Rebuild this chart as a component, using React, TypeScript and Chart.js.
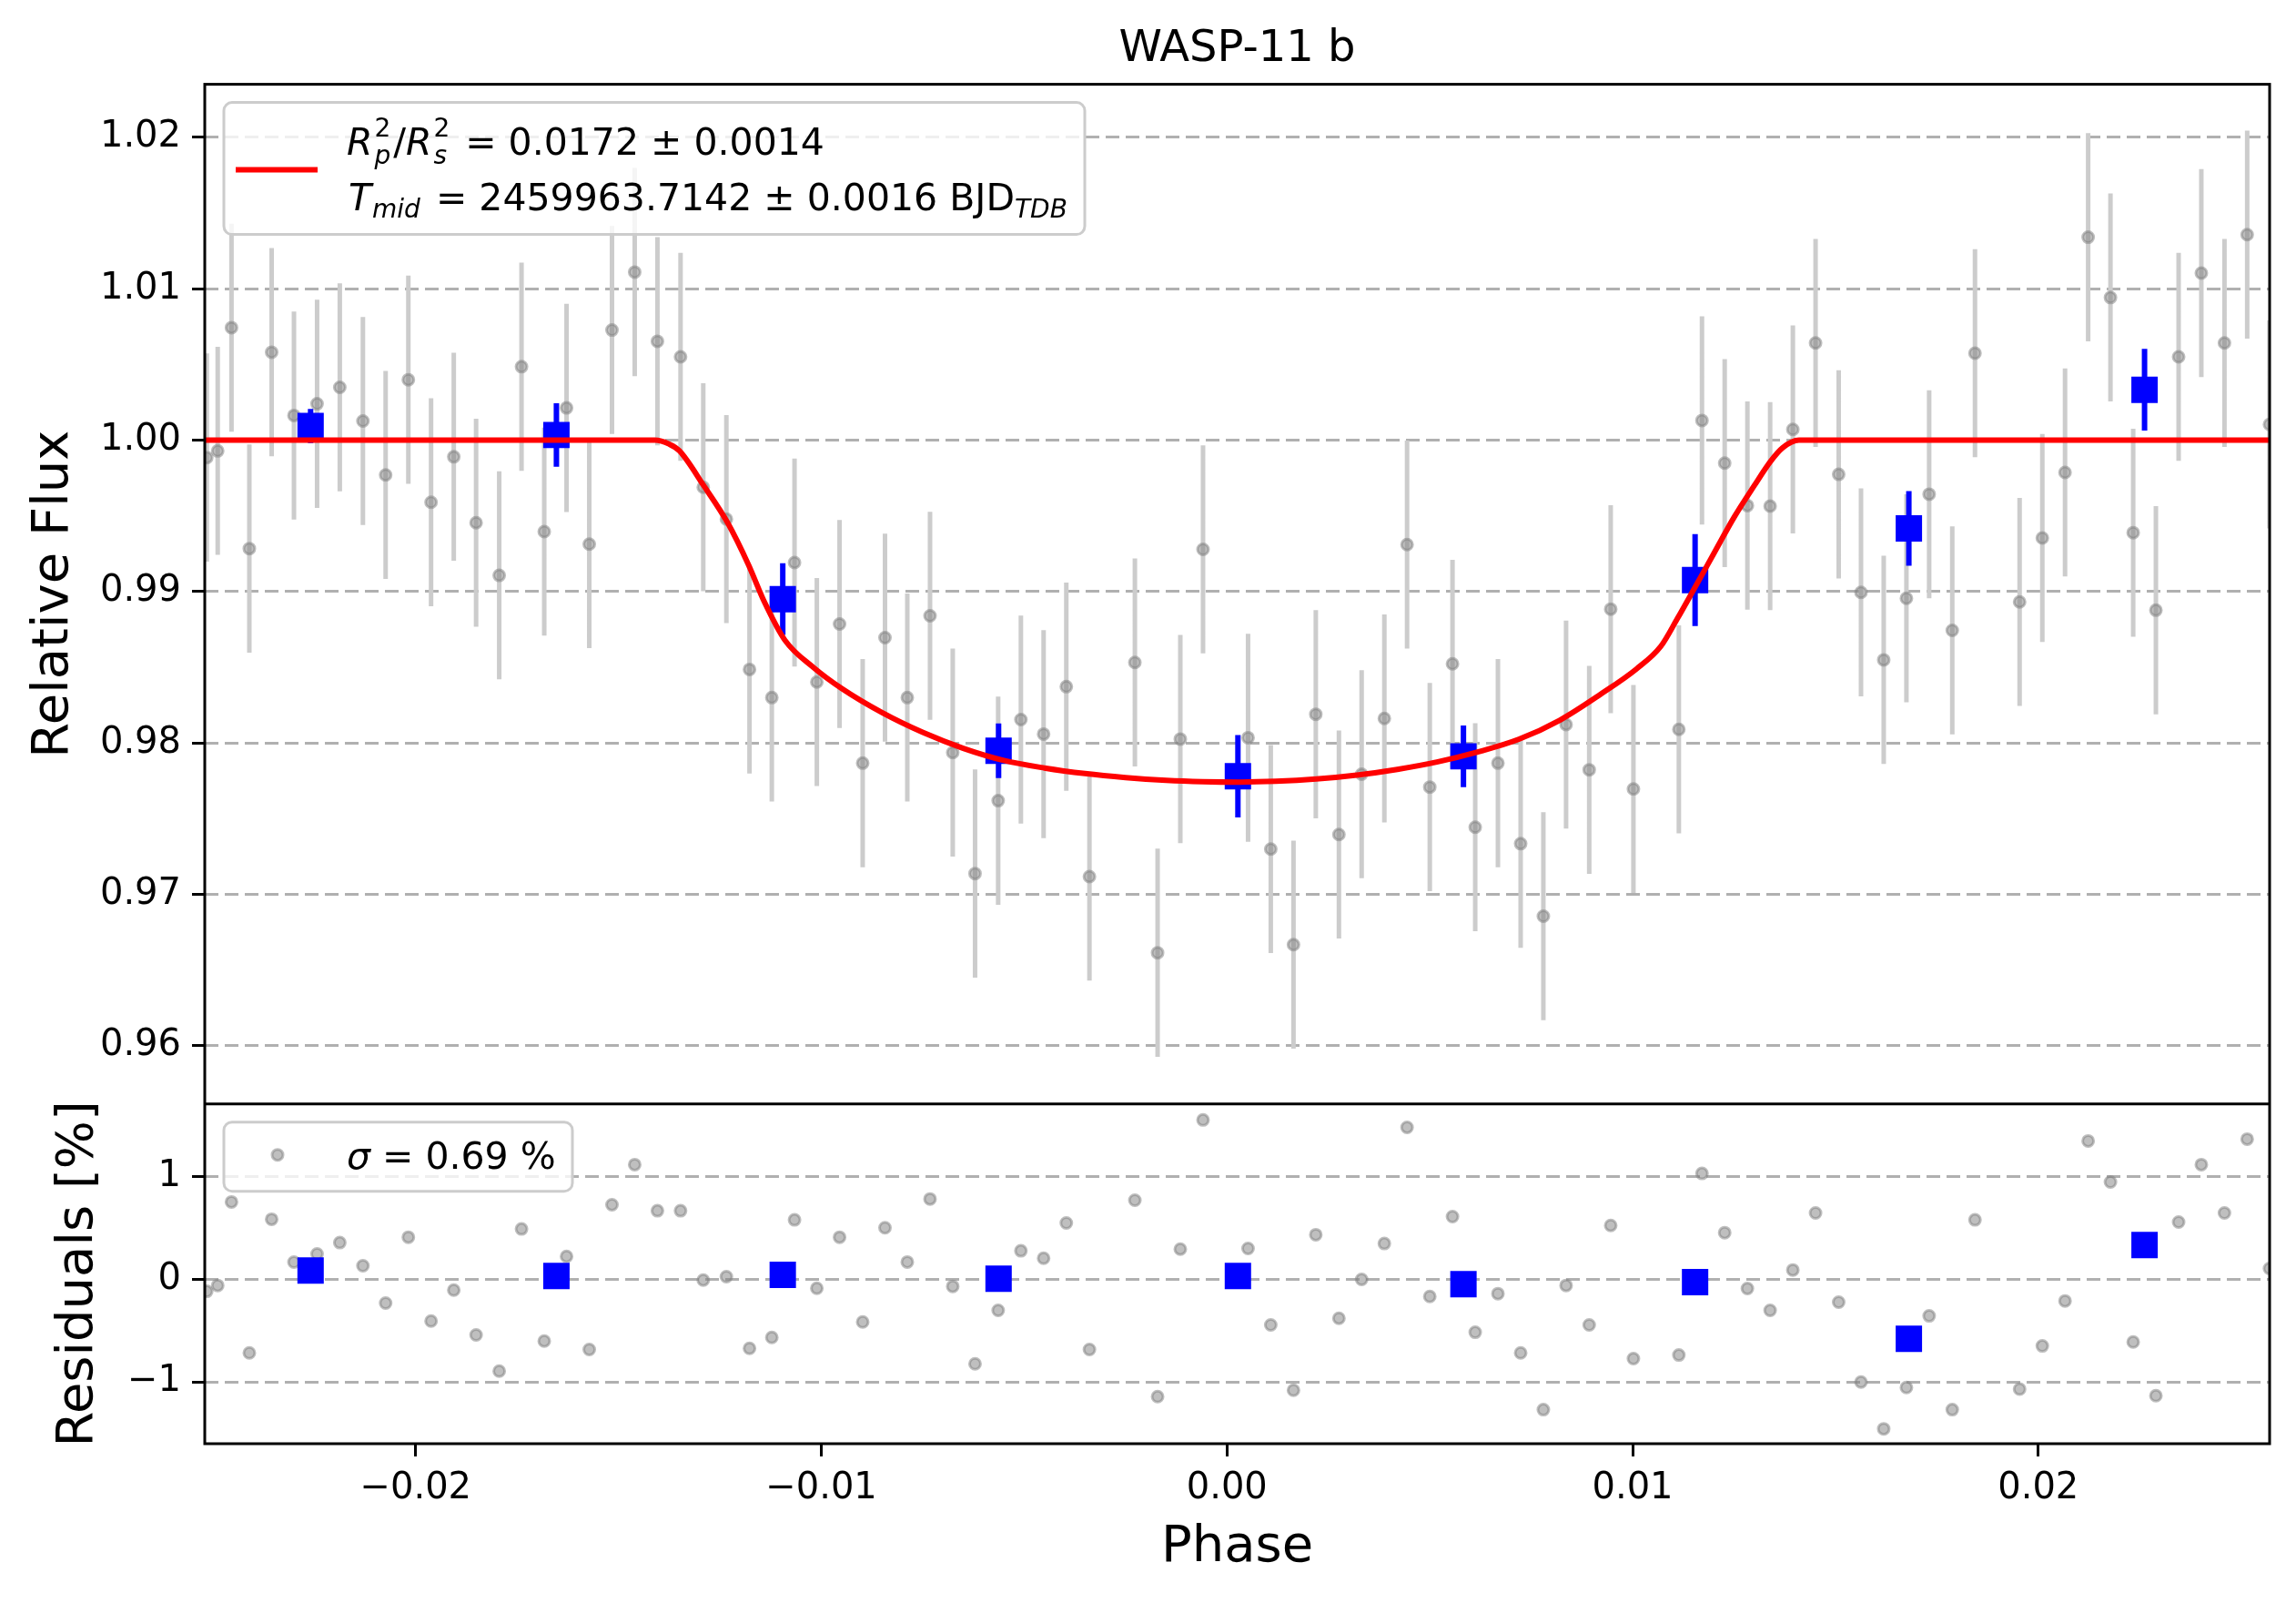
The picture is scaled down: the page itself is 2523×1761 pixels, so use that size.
import React, { useEffect, useRef } from "react";
import { Chart, registerables } from "chart.js";

Chart.register(...registerables);

const FONT = '"DejaVu Sans", sans-serif';
const W = 2523;
const H = 1761;

// unbinned light curve (phase, relative flux, residual in %)
const PHASE = [
  -0.02515, -0.02488, -0.02454, -0.0241, -0.02355, -0.023, -0.02243, -0.02187, -0.0213, -0.02074,
  -0.02018, -0.01962, -0.01906, -0.01851, -0.01794, -0.01739, -0.01683, -0.01628, -0.01572, -0.01516,
  -0.0146, -0.01404, -0.01347, -0.01291, -0.01234, -0.01177, -0.01122, -0.01066, -0.01011, -0.00955,
  -0.00898, -0.00843, -0.00788, -0.00732, -0.00676, -0.00621, -0.00564, -0.00508, -0.00452, -0.00396,
  -0.00339, -0.00227, -0.00171, -0.00115, -0.00059, 0.00052, 0.00108, 0.00164, 0.00219, 0.00276,
  0.00332, 0.00388, 0.00444, 0.005, 0.00556, 0.00612, 0.00668, 0.00724, 0.0078, 0.00836,
  0.00893, 0.00946, 0.01002, 0.01114, 0.01171, 0.01227, 0.01283, 0.01339, 0.01395, 0.01451,
  0.01508, 0.01563, 0.01619, 0.01675, 0.01731, 0.01788, 0.01844, 0.01954, 0.0201, 0.02066,
  0.02123, 0.02178, 0.02234, 0.0229, 0.02346, 0.02402, 0.02459, 0.02515, 0.0257,
];
const FLUX = [
  0.99885, 0.99929, 1.00743, 0.99284, 1.00581, 1.00163, 1.0024, 1.00349, 1.00126, 0.9977,
  1.00399, 0.9959, 0.9989, 0.99455, 0.99107, 1.00485, 0.99396, 1.00213, 0.99313, 1.00727,
  1.0111, 1.00653, 1.0055, 0.99689, 0.99479, 0.98486, 0.983, 0.99192, 0.98403, 0.98786,
  0.97867, 0.98696, 0.983, 0.9884, 0.97937, 0.97138, 0.97619, 0.98155, 0.98059, 0.98372,
  0.97118, 0.98532, 0.96615, 0.98026, 0.99279, 0.98035, 0.973, 0.96668, 0.9819, 0.97396,
  0.97794, 0.98162, 0.9931, 0.97709, 0.98523, 0.97444, 0.97867, 0.97335, 0.96856, 0.98122,
  0.97823, 0.98884, 0.97696, 0.9809, 1.0013, 0.99848, 0.99568, 0.99564, 1.00071, 1.00642,
  0.99774, 0.98995, 0.98549, 0.98956, 0.99643, 0.98744, 1.00574, 0.98932, 0.99354, 0.99787,
  1.0134, 1.00942, 0.99389, 0.98877, 1.0055, 1.01103, 1.00642, 1.01357, 1.00104,
];
const FLUX_ERR = 0.00687;
const RESID = [
  -0.116, -0.059, 0.756, -0.717, 0.587, 0.169, 0.249, 0.359, 0.133, -0.231,
  0.412, -0.406, -0.104, -0.542, -0.895, 0.492, -0.601, 0.225, -0.684, 0.729,
  1.12, 0.67, 0.67, -0.006, 0.027, -0.673, -0.566, 0.581, -0.086, 0.412,
  -0.415, 0.504, 0.17, 0.785, -0.068, -0.824, -0.302, 0.279, 0.207, 0.551,
  -0.684, 0.773, -1.144, 0.296, 1.556, 0.302, -0.444, -1.081, 0.436, -0.379,
  0.0, 0.35, 1.484, -0.166, 0.613, -0.516, -0.139, -0.717, -1.271, -0.059,
  -0.444, 0.527, -0.773, -0.738, 1.034, 0.456, -0.089, -0.302, 0.092, 0.649,
  -0.222, -1.001, -1.458, -1.055, -0.356, -1.271, 0.581, -1.07, -0.649, -0.21,
  1.351, 0.951, -0.61, -1.135, 0.56, 1.12, 0.649, 1.369, 0.107,
];

// binned points
const BIN_PHASE = [-0.02259, -0.01653, -0.01095, -0.00563, 0.00027, 0.00583, 0.01154, 0.01681, 0.02262];
const BIN_FLUX = [1.00093, 1.00034, 0.9895, 0.97949, 0.97781, 0.97912, 0.99076, 0.99417, 1.00333];
const BIN_ERR = [0.00113, 0.0021, 0.00237, 0.0018, 0.00272, 0.00204, 0.00303, 0.00246, 0.0027];
const BIN_RESID = [0.086, 0.034, 0.044, 0.007, 0.034, -0.046, -0.027, -0.579, 0.336];

// transit model
const MODEL_PHASE = [
  -0.0252, -0.0141, -0.01375, -0.0135, -0.0129, -0.0123, -0.0118, -0.0114, -0.0109, -0.0102,
  -0.0095, -0.0085, -0.0075, -0.0065, -0.0055, -0.0045, -0.0035, -0.0025, -0.0015, -0.0006,
  0.0003, 0.0012, 0.0022, 0.0032, 0.0042, 0.0052, 0.0062, 0.0072, 0.0082, 0.0092,
  0.0101, 0.0107, 0.0111, 0.0115, 0.012, 0.0125, 0.013, 0.0134, 0.0137, 0.0141,
  0.0257,
];
const MODEL_FLUX = [
  1.0, 1.0, 0.99974, 0.9993, 0.997, 0.9945, 0.9918, 0.9893, 0.9868, 0.985,
  0.9836, 0.982, 0.9807, 0.97965, 0.97885, 0.97835, 0.97798, 0.97772, 0.97754, 0.97745,
  0.97742, 0.97747, 0.97762, 0.97788, 0.97826, 0.97876, 0.97942, 0.98025, 0.9815, 0.9832,
  0.9849, 0.9864, 0.9882, 0.9901, 0.9925, 0.9949, 0.997, 0.9986, 0.9995, 1.0,
  1.0,
];

const X_TICKS = [-0.02, -0.01, 0.0, 0.01, 0.02];
const FLUX_TICKS = [0.96, 0.97, 0.98, 0.99, 1.0, 1.01, 1.02];
const RESID_TICKS = [-1, 0, 1];

const GRAY_FILL = "rgba(128,128,128,0.5)";
const BAR_GRAY = "rgb(204,204,204)";
const BLUE = "#0000ff";
const RED = "#ff0000";

const minus = (s: string) => s.replace("-", "\u2212");

const points = (xs: number[], ys: number[]) => xs.map((x, i) => ({ x, y: ys[i] }));
const bars = (xs: number[], ys: number[], err: (i: number) => number) =>
  xs.flatMap((x, i) => [
    { x, y: ys[i] - err(i) },
    { x, y: ys[i] + err(i) },
    { x, y: null },
  ]);

type Run = { t: string; size?: number; italic?: boolean; dy?: number; keep?: boolean; gap?: number };

const drawRuns = (ctx: CanvasRenderingContext2D, x: number, y: number, runs: Run[]) => {
  ctx.fillStyle = "#000";
  ctx.textBaseline = "alphabetic";
  ctx.textAlign = "left";
  for (const r of runs) {
    ctx.font = `${r.italic ? "italic " : ""}${r.size ?? 41}px ${FONT}`;
    ctx.fillText(r.t, x, y + (r.dy ?? 0));
    if (!r.keep) x += ctx.measureText(r.t).width + (r.gap ?? 0);
  }
};

const legendBox = (ctx: CanvasRenderingContext2D, x: number, y: number, w: number, h: number) => {
  ctx.beginPath();
  ctx.roundRect(x, y, w, h, 9);
  ctx.fillStyle = "rgba(255,255,255,0.8)";
  ctx.fill();
  ctx.strokeStyle = "#cccccc";
  ctx.lineWidth = 3;
  ctx.stroke();
};

const framePlugin = {
  id: "frame",
  afterDatasetsDraw(chart: any) {
    const { ctx, chartArea: a, scales } = chart;
    ctx.save();
    ctx.strokeStyle = "#000";
    ctx.lineWidth = 3;
    ctx.strokeRect(a.left, a.top, a.right - a.left, a.bottom - a.top);
    ctx.beginPath();
    ctx.moveTo(a.left, scales.yFlux.bottom);
    ctx.lineTo(a.right, scales.yFlux.bottom);
    ctx.stroke();
    ctx.restore();
  },
  afterDraw(chart: any) {
    const { ctx, chartArea: a, scales } = chart;
    ctx.save();
    // top legend
    legendBox(ctx, a.left + 21, a.top + 20, 946, 145);
    ctx.beginPath();
    ctx.moveTo(a.left + 34, a.top + 94);
    ctx.lineTo(a.left + 124, a.top + 94);
    ctx.strokeStyle = RED;
    ctx.lineWidth = 6;
    ctx.stroke();
    drawRuns(ctx, a.left + 156, a.top + 77, [
      { t: "R", italic: true, gap: 2 },
      { t: "2", size: 28, dy: -20, keep: true },
      { t: "p", size: 28, italic: true, dy: 10, gap: 3 },
      { t: "/" },
      { t: "R", italic: true, gap: 2 },
      { t: "2", size: 28, dy: -20, keep: true },
      { t: "s", size: 28, italic: true, dy: 10, gap: 7 },
      { t: " = 0.0172 \u00b1 0.0014" },
    ]);
    drawRuns(ctx, a.left + 158, a.top + 138, [
      { t: "T", italic: true, gap: 1 },
      { t: "mid", size: 28, italic: true, dy: 8, gap: 4 },
      { t: " = 2459963.7142 \u00b1 0.0016 BJD" },
      { t: "TDB", size: 28, italic: true, dy: 8 },
    ]);
    // residual legend
    const rt = scales.yRes.top;
    legendBox(ctx, a.left + 21, rt + 20, 383, 76);
    ctx.beginPath();
    ctx.arc(a.left + 80, rt + 56, 6, 0, Math.PI * 2);
    ctx.fillStyle = GRAY_FILL;
    ctx.fill();
    ctx.strokeStyle = GRAY_FILL;
    ctx.lineWidth = 3;
    ctx.stroke();
    drawRuns(ctx, a.left + 156, rt + 71, [{ t: "\u03c3", italic: true }, { t: " = 0.69 %" }]);
    ctx.restore();
  },
};

const tickFont = { family: FONT, size: 40 };
const titleFont = { family: FONT, size: 56 };

const yGrid = {
  color: "#b0b0b0",
  lineWidth: 3,
  tickColor: "#000",
  tickWidth: 3,
  tickLength: 14,
  tickBorderDash: [],
};
const yBorder = { display: false, dash: [15, 7] };

const App: React.FC = () => {
  const canvasRef = useRef<HTMLCanvasElement | null>(null);

  useEffect(() => {
    document.body.style.margin = "0";
    if (!canvasRef.current) return;

    const grayPoint = {
      pointRadius: 6,
      pointHoverRadius: 6,
      pointBackgroundColor: GRAY_FILL,
      pointBorderColor: GRAY_FILL,
      pointBorderWidth: 3,
    };
    const bluePoint = {
      pointStyle: "rect",
      pointRadius: 20.5,
      pointHoverRadius: 20.5,
      pointBackgroundColor: BLUE,
      pointBorderWidth: 0,
    };
    const barLine = (color: string, width: number) => ({
      type: "line" as const,
      borderColor: color,
      borderWidth: width,
      borderCapStyle: "butt",
      pointRadius: 0,
      pointHoverRadius: 0,
      spanGaps: false,
      fill: false,
    });

    const chart = new Chart(canvasRef.current, {
      type: "scatter",
      data: {
        datasets: [
          {
            type: "line",
            label: "model",
            data: points(MODEL_PHASE, MODEL_FLUX),
            yAxisID: "yFlux",
            borderColor: RED,
            borderWidth: 6,
            pointRadius: 0,
            cubicInterpolationMode: "monotone",
            fill: false,
            order: 0,
          },
          {
            label: "binned",
            data: points(BIN_PHASE, BIN_FLUX),
            yAxisID: "yFlux",
            ...bluePoint,
            order: 1,
          },
          {
            ...barLine(BLUE, 6),
            label: "binned err",
            data: bars(BIN_PHASE, BIN_FLUX, (i) => BIN_ERR[i]),
            yAxisID: "yFlux",
            order: 2,
          },
          {
            label: "data",
            data: points(PHASE, FLUX),
            yAxisID: "yFlux",
            ...grayPoint,
            order: 3,
          },
          {
            ...barLine(BAR_GRAY, 5),
            label: "data err",
            data: bars(PHASE, FLUX, () => FLUX_ERR),
            yAxisID: "yFlux",
            order: 4,
          },
          {
            label: "binned resid",
            data: points(BIN_PHASE, BIN_RESID),
            yAxisID: "yRes",
            ...bluePoint,
            order: 1,
          },
          {
            label: "resid",
            data: points(PHASE, RESID),
            yAxisID: "yRes",
            ...grayPoint,
            order: 3,
          },
        ] as any,
      },
      options: {
        responsive: false,
        animation: false,
        devicePixelRatio: 1,
        events: [],
        layout: { padding: { left: 0, right: 29, top: 0, bottom: 0 } },
        plugins: {
          legend: { display: false },
          tooltip: { enabled: false },
          title: {
            display: true,
            text: "WASP-11 b",
            fullSize: false,
            color: "#000",
            font: { family: FONT, size: 48, weight: "normal" },
            padding: { top: 26, bottom: 9 },
          },
        },
        scales: {
          x: {
            type: "linear",
            min: -0.025199,
            max: 0.025703,
            afterBuildTicks: (s: any) => {
              s.ticks = X_TICKS.map((v) => ({ value: v }));
            },
            afterFit: (s: any) => {
              s.height = 175;
            },
            ticks: {
              color: "#000",
              font: tickFont,
              padding: 12,
              maxRotation: 0,
              callback: (v: any) => minus(Number(v).toFixed(2)),
            },
            grid: {
              drawOnChartArea: false,
              drawTicks: true,
              tickLength: 14,
              tickColor: "#000",
              tickWidth: 3,
            },
            border: { display: false },
            title: {
              display: true,
              text: "Phase",
              color: "#000",
              font: titleFont,
              padding: { top: 0, bottom: 27 },
            },
          },
          yRes: {
            type: "linear",
            position: "left",
            stack: "panels",
            stackWeight: 1,
            min: -1.603,
            max: 1.713,
            afterBuildTicks: (s: any) => {
              s.ticks = RESID_TICKS.map((v) => ({ value: v }));
            },
            afterFit: (s: any) => {
              s.width = 225;
            },
            ticks: {
              color: "#000",
              font: tickFont,
              padding: 12,
              callback: (v: any) => minus(String(Number(v))),
            },
            grid: yGrid,
            border: yBorder,
            title: {
              display: true,
              text: "Residuals [%]",
              color: "#000",
              font: titleFont,
              padding: { top: 53, bottom: 0 },
            },
          },
          yFlux: {
            type: "linear",
            position: "left",
            stack: "panels",
            stackWeight: 3,
            min: 0.95617,
            max: 1.0235,
            afterBuildTicks: (s: any) => {
              s.ticks = FLUX_TICKS.map((v) => ({ value: v }));
            },
            afterFit: (s: any) => {
              s.width = 225;
            },
            ticks: {
              color: "#000",
              font: tickFont,
              padding: 12,
              callback: (v: any) => Number(v).toFixed(2),
            },
            grid: yGrid,
            border: yBorder,
            title: {
              display: true,
              text: "Relative Flux",
              color: "#000",
              font: titleFont,
              padding: { top: 26, bottom: 0 },
            },
          },
        },
      } as any,
      plugins: [framePlugin],
    });

    return () => {
      chart.destroy();
    };
  }, []);

  return (
    <div style={{ width: W, height: H, background: "#fff" }}>
      <canvas ref={canvasRef} width={W} height={H} style={{ display: "block", width: W, height: H }} />
    </div>
  );
};

export default App;
